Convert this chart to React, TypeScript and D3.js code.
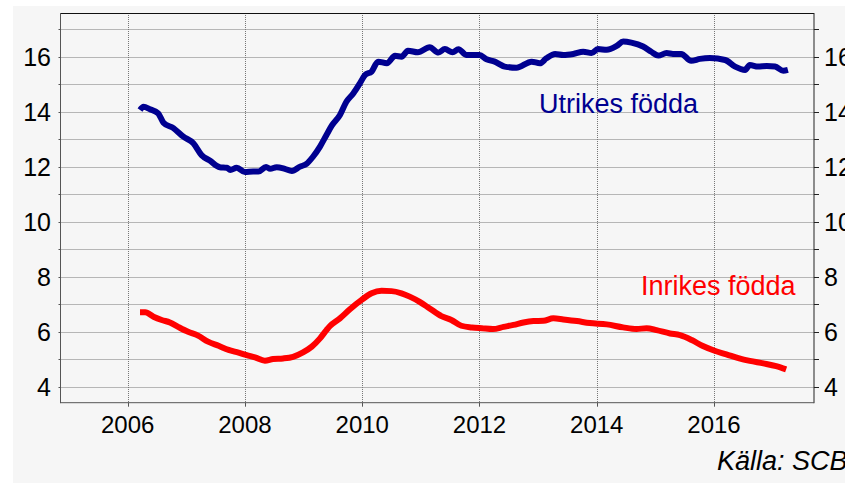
import React, { useEffect, useRef } from "react";
import * as d3 from "d3";

// Utrikes födda (share, %) – decimal year and value
const utrikesYears = [
  2006.21, 2006.27, 2006.38, 2006.52, 2006.61, 2006.78, 2006.95, 2007.12, 2007.26, 2007.4,
  2007.57, 2007.69, 2007.75, 2007.86, 2008.0, 2008.14, 2008.23, 2008.36, 2008.43, 2008.54,
  2008.68, 2008.8, 2008.94, 2009.05, 2009.16, 2009.28, 2009.39, 2009.48, 2009.62, 2009.73,
  2009.85, 2009.96, 2010.05, 2010.16, 2010.27, 2010.42, 2010.56, 2010.67, 2010.78, 2010.95,
  2011.15, 2011.3, 2011.41, 2011.54, 2011.64, 2011.78, 2012.0, 2012.12, 2012.26, 2012.43,
  2012.63, 2012.89, 2013.03, 2013.14, 2013.29, 2013.43, 2013.6, 2013.77, 2013.91, 2014.02,
  2014.17, 2014.34, 2014.45, 2014.59, 2014.79, 2014.93, 2015.05, 2015.19, 2015.3, 2015.44,
  2015.61, 2015.76, 2015.93, 2016.19, 2016.36, 2016.53, 2016.61, 2016.75, 2016.9, 2017.04,
  2017.18, 2017.26,
];
const utrikesValues = [
  14.07, 14.19, 14.1, 13.95, 13.61, 13.41, 13.1, 12.86, 12.43, 12.23,
  11.99, 11.97, 11.89, 11.97, 11.81, 11.83, 11.83, 12.0, 11.93, 11.99,
  11.93, 11.85, 12.01, 12.11, 12.37, 12.74, 13.16, 13.5, 13.89, 14.37,
  14.68, 15.04, 15.35, 15.47, 15.83, 15.77, 16.04, 16.01, 16.23, 16.17,
  16.35, 16.16, 16.29, 16.17, 16.28, 16.07, 16.07, 15.92, 15.83, 15.65,
  15.61, 15.83, 15.77, 15.95, 16.11, 16.07, 16.11, 16.19, 16.14, 16.29,
  16.26, 16.4, 16.56, 16.52, 16.38, 16.19, 16.05, 16.14, 16.11, 16.11,
  15.86, 15.93, 15.96, 15.89, 15.65, 15.53, 15.71, 15.65, 15.67, 15.65,
  15.5, 15.53,
];

// Inrikes födda
const inrikesYears = [
  2006.21, 2006.3, 2006.44, 2006.58, 2006.72, 2006.86, 2007.03, 2007.2, 2007.37, 2007.55,
  2007.72, 2007.89, 2008.03, 2008.17, 2008.34, 2008.48, 2008.65, 2008.82, 2008.99, 2009.14,
  2009.28, 2009.39, 2009.45, 2009.62, 2009.79, 2009.99, 2010.16, 2010.33, 2010.5, 2010.67,
  2010.81, 2010.98, 2011.15, 2011.35, 2011.52, 2011.69, 2011.87, 2012.04, 2012.23, 2012.41,
  2012.58, 2012.75, 2012.92, 2013.09, 2013.26, 2013.43, 2013.66, 2013.88, 2014.17, 2014.45,
  2014.68, 2014.85, 2015.02, 2015.25, 2015.42, 2015.62, 2015.81, 2016.01, 2016.21, 2016.43,
  2016.61, 2016.84, 2017.06, 2017.23,
];
const inrikesValues = [
  6.71, 6.71, 6.55, 6.43, 6.34, 6.18, 6.0, 5.86, 5.64, 5.49,
  5.34, 5.24, 5.15, 5.07, 4.95, 5.01, 5.03, 5.09, 5.25, 5.46,
  5.76, 6.06, 6.21, 6.49, 6.82, 7.16, 7.4, 7.49, 7.48, 7.4,
  7.28, 7.09, 6.85, 6.57, 6.43, 6.22, 6.16, 6.13, 6.1, 6.18,
  6.25, 6.34, 6.39, 6.4, 6.49, 6.45, 6.39, 6.32, 6.27, 6.16,
  6.1, 6.13, 6.06, 5.94, 5.88, 5.7, 5.48, 5.31, 5.18, 5.03,
  4.94, 4.85, 4.75, 4.63,
];

const yearTicks = [2006, 2008, 2010, 2012, 2014, 2016];
const valueTicks = [4, 6, 8, 10, 12, 14, 16];
const gridValues = [4, 5, 6, 7, 8, 9, 10, 11, 12, 13, 14, 15, 16, 17];

const W = 845;
const H = 483;
const FONT = "'Liberation Sans', Arial, sans-serif";

const App = () => {
  const svgRef = useRef<SVGSVGElement>(null);

  useEffect(() => {
    const svg = d3.select(svgRef.current);
    svg.selectAll("*").remove();

    const left = 60.5;
    const right = 814;
    const top = 13;
    const bottom = 402.7;

    const x = d3.scaleLinear().domain([2004.854, 2017.705]).range([left, right]);
    const y = d3.scaleLinear().domain([3.42, 17.6]).range([bottom, top]);

    svg.append("rect").attr("width", W).attr("height", H).attr("fill", "#ffffff");
    svg.append("rect").attr("x", 13).attr("y", 6).attr("width", W - 13).attr("height", H - 6).attr("fill", "#f6f6f6");

    // grid
    const grid = svg.append("g").attr("stroke", "#777").attr("stroke-width", 1).attr("stroke-dasharray", "1,1");
    gridValues.forEach((v) => {
      const yy = Math.round(y(v)) + 0.5;
      grid.append("line").attr("x1", left).attr("x2", right).attr("y1", yy).attr("y2", yy);
    });
    yearTicks.forEach((t) => {
      const xx = Math.round(x(t)) + 0.5;
      grid.append("line").attr("x1", xx).attr("x2", xx).attr("y1", top).attr("y2", bottom);
    });

    // frame and ticks
    const frame = svg.append("g").attr("stroke", "#333").attr("stroke-width", 1);
    frame.append("line").attr("x1", left).attr("x2", right).attr("y1", 13.5).attr("y2", 13.5).attr("stroke", "#111");
    frame.append("line").attr("x1", left).attr("x2", left).attr("y1", top).attr("y2", bottom + 0.5).attr("stroke", "#555");
    frame.append("line").attr("x1", right).attr("x2", right).attr("y1", top).attr("y2", bottom + 0.5).attr("stroke", "#222");
    frame.append("line").attr("x1", left).attr("x2", right).attr("y1", bottom).attr("y2", bottom).attr("stroke", "#555");

    gridValues.forEach((v) => {
      const yy = Math.round(y(v)) + 0.5;
      frame.append("line").attr("x1", left - 2).attr("x2", left).attr("y1", yy).attr("y2", yy).attr("stroke", "#555");
      frame.append("line").attr("x1", right).attr("x2", right + 5).attr("y1", yy).attr("y2", yy).attr("stroke", "#222");
    });
    yearTicks.forEach((t) => {
      const xx = Math.round(x(t)) + 0.5;
      frame.append("line").attr("x1", xx).attr("x2", xx).attr("y1", bottom).attr("y2", bottom + 4).attr("stroke", "#555");
    });

    // tick labels
    valueTicks.forEach((v) => {
      svg.append("text").attr("x", 51).attr("y", y(v)).attr("dy", "0.35em")
        .attr("text-anchor", "end").style("font-family", FONT).style("font-size", "25px").attr("fill", "#000").text(v);
      svg.append("text").attr("x", 824).attr("y", y(v)).attr("dy", "0.35em")
        .attr("text-anchor", "start").style("font-family", FONT).style("font-size", "25px").attr("fill", "#000").text(v);
    });
    yearTicks.forEach((t) => {
      svg.append("text").attr("x", x(t)).attr("y", 432.5).attr("text-anchor", "middle")
        .style("font-family", FONT).style("font-size", "24px").attr("fill", "#000").text(t);
    });

    // lines
    const line = d3.line<[number, number]>().x((d) => x(d[0])).y((d) => y(d[1])).curve(d3.curveMonotoneX);
    const utrikes: [number, number][] = utrikesYears.map((t, i) => [t, utrikesValues[i]]);
    const inrikes: [number, number][] = inrikesYears.map((t, i) => [t, inrikesValues[i]]);

    svg.append("path").datum(inrikes).attr("d", line).attr("fill", "none").attr("stroke", "#ff0000")
      .attr("stroke-width", 6).attr("stroke-linejoin", "round");
    svg.append("path").datum(utrikes).attr("d", line).attr("fill", "none").attr("stroke", "#000090")
      .attr("stroke-width", 6).attr("stroke-linejoin", "round");

    // series labels
    svg.append("text").attr("x", 539).attr("y", 113).style("font-family", FONT).style("font-size", "27px")
      .attr("fill", "#000090").text("Utrikes födda");
    svg.append("text").attr("x", 641).attr("y", 295).style("font-family", FONT).style("font-size", "27px")
      .attr("fill", "#ff0000").text("Inrikes födda");

    // source
    svg.append("text").attr("x", 717).attr("y", 470).style("font-family", FONT).style("font-size", "27px")
      .style("font-style", "italic").attr("fill", "#000").text("Källa: SCB");
  }, []);

  return (
    <svg
      ref={svgRef}
      width={W}
      height={H}
      style={{ position: "absolute", left: 0, top: 0, display: "block" }}
    ></svg>
  );
};

export default App;
